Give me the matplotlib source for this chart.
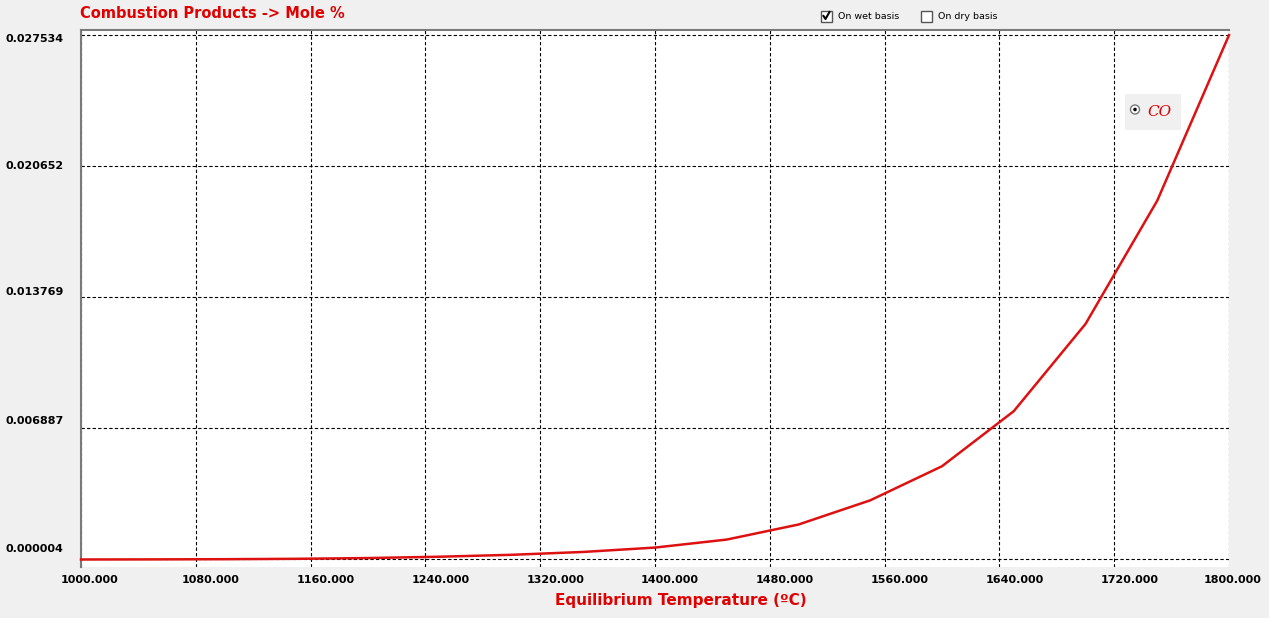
import matplotlib
matplotlib.use("Agg")
import matplotlib.pyplot as plt
from matplotlib.patches import Rectangle, Circle
from matplotlib.lines import Line2D
import matplotlib.transforms as mtrans

# ---- data ----
temperature = [1000, 1050, 1100, 1150, 1200, 1250, 1300, 1350, 1400,
               1450, 1500, 1550, 1600, 1650, 1700, 1750, 1800]
co_mole = [0.000004, 0.00001, 0.00002, 0.00004, 0.00008, 0.00015, 0.00025,
           0.0004, 0.00063, 0.00105, 0.00184, 0.00311, 0.0049, 0.00779,
           0.01237, 0.018845, 0.027534]
series_name = "CO"
x_ticks = [1000, 1080, 1160, 1240, 1320, 1400, 1480, 1560, 1640, 1720, 1800]
y_ticks = [0.000004, 0.006887, 0.013769, 0.020652, 0.027534]
y_tick_labels = ["0.000004", "0.006887", "0.013769", "0.020652", "0.027534"]
title = "Combustion Products -> Mole %"
xlabel = "Equilibrium Temperature (ºC)"
check_labels = ["On wet basis", "On dry basis"]
check_states = [True, False]

W, H = 1269, 618
BG = "#f0f0f0"
RED = "#e00000"

fig = plt.figure(figsize=(W / 100, H / 100), dpi=100, facecolor=BG)
ax = fig.add_axes([81 / W, 1 - 567 / H, (1229 - 81) / W, (567 - 30) / H])
ax.set_facecolor("white")

ax.plot(temperature, co_mole, color="#dd1111", lw=1.8, zorder=3, clip_on=False)

ax.set_xlim(1000, 1800)
ax.set_ylim(-0.000390, 0.027803)

ax.set_xticks(x_ticks)
ax.set_xticklabels([f"{t:.3f}" for t in x_ticks])
ax.set_yticks(y_ticks)
ax.set_yticklabels(y_tick_labels)

ax.tick_params(axis="both", length=0, labelsize=8)
ax.tick_params(axis="x", pad=6)
ax.tick_params(axis="y", pad=0)
for lab in ax.get_xticklabels() + ax.get_yticklabels():
    lab.set_fontweight("bold")
    lab.set_color("black")

# y labels: left-aligned near figure edge, evenly spaced as in the reference
y_offsets = [10.5, 7.7, 5.3, 0.5, -3.9]
for lab, off in zip(ax.get_yticklabels(), y_offsets):
    lab.set_horizontalalignment("left")
    lab.set_verticalalignment("center")
    lab.set_transform(lab.get_transform() + mtrans.Affine2D().translate(-(81 - 5), off))

# x labels shifted right as in reference
xl = ax.get_xticklabels()
for i, lab in enumerate(xl):
    if i == 0:
        dx = 9
    elif i == len(xl) - 1:
        dx = 4
    else:
        dx = 15
    lab.set_transform(lab.get_transform() + mtrans.Affine2D().translate(dx, 0))

# grid
ax.grid(True, color="black", lw=0.8, linestyle=(0, (3, 2)))
ax.set_axisbelow(True)

for s in ["bottom", "right"]:
    ax.spines[s].set_visible(False)
for s in ["left", "top"]:
    ax.spines[s].set_color("#7a7a7a")
    ax.spines[s].set_linewidth(1.5)

# title & x label
fig.text(80 / W, 1 - 14 / H, title, color=RED, fontsize=10.5, fontweight="bold",
         ha="left", va="center")
fig.text(681 / W, 1 - 600 / H, xlabel, color=RED, fontsize=11, fontweight="bold",
         ha="center", va="center")

# checkboxes
for (bx, tx), lbl, st in zip([(821, 838), (921, 938)], check_labels, check_states):
    fig.patches.append(Rectangle((bx / W, 1 - 22 / H), 11 / W, 11 / H,
                                 transform=fig.transFigure, facecolor="white",
                                 edgecolor="#555555", lw=1))
    if st:
        fig.lines.append(Line2D([(bx + 2.5) / W, (bx + 4.5) / W, (bx + 8.5) / W],
                                [1 - 16 / H, 1 - 19 / H, 1 - 12 / H],
                                transform=fig.transFigure, color="black", lw=1.5))
    fig.text(tx / W, 1 - 16.5 / H, lbl, fontsize=6.8, ha="left", va="center", color="black")

# legend box
pix = mtrans.IdentityTransform()
fig.patches.append(Rectangle((1125 / W, 1 - 130 / H), 56 / W, 36 / H,
                             transform=fig.transFigure, facecolor=BG, edgecolor="none",
                             zorder=5))
fig.patches.append(Circle((1135, H - 109.5), 4.5, transform=pix,
                          facecolor="white", edgecolor="#777777", lw=1, zorder=6))
fig.patches.append(Circle((1135, H - 109.5), 1.8, transform=pix,
                          facecolor="black", edgecolor="none", zorder=7))
fig.text(1159 / W, 1 - 112 / H, series_name, color=RED, fontsize=11, fontstyle="italic",
         family="DejaVu Serif", ha="center", va="center", zorder=7)

fig.savefig("out.png", dpi=100, facecolor=BG)
